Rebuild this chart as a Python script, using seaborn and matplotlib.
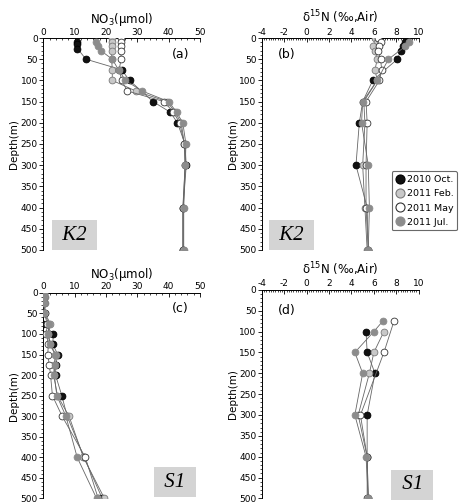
import numpy as np
import pandas as pd
import matplotlib
matplotlib.use('Agg')
import matplotlib.pyplot as plt
from matplotlib.ticker import MultipleLocator
from matplotlib.lines import Line2D
import seaborn as sns

# ---- du lieu doc tu hinh ----
seasons = ['2010 Oct.', '2011 Feb.', '2011 May', '2011 Jul.']

# (a) K2 NO3
k2_no3_oct_depth = [10, 15, 25, 50, 75, 100, 150, 175, 200, 250, 300, 400, 500]
k2_no3_oct = [10.8, 10.8, 10.9, 13.6, 25.0, 27.5, 35.0, 40.5, 42.8, 45.2, 45.6, 44.6, 44.6]
k2_no3_feb_depth = [0, 10, 20, 30, 50, 75, 100, 125, 150, 175, 200, 250, 300, 400, 500]
k2_no3_feb = [21.8, 21.8, 21.8, 21.8, 21.8, 22.0, 22.0, 29.5, 39.5, 42.0, 44.0, 45.0, 45.2, 44.6, 44.6]
k2_no3_may_depth = [0, 10, 20, 30, 50, 75, 100, 125, 150, 175, 200, 250, 300, 400, 500]
k2_no3_may = [24.8, 24.8, 24.8, 24.8, 24.8, 24.2, 25.0, 26.8, 38.5, 41.5, 43.5, 45.0, 45.3, 44.5, 44.5]
k2_no3_jul_depth = [10, 20, 30, 50, 75, 100, 125, 150, 175, 200, 250, 300, 400, 500]
k2_no3_jul = [16.8, 17.6, 18.4, 22.0, 24.0, 26.2, 31.5, 40.0, 42.5, 44.5, 45.5, 45.3, 44.8, 44.8]

# (b) K2 d15N
k2_dn_oct_depth = [10, 20, 30, 50, 100, 150, 200, 300, 400, 500]
k2_dn_oct = [8.8, 8.6, 8.4, 8.1, 5.9, 5.0, 4.7, 4.4, 5.4, 5.5]
k2_dn_feb_depth = [0, 10, 20, 30, 50, 75, 100, 150, 200, 300, 400, 500]
k2_dn_feb = [6.1, 6.3, 5.9, 6.1, 6.3, 6.1, 6.3, 5.1, 5.2, 5.0, 5.2, 5.4]
k2_dn_may_depth = [0, 10, 20, 30, 50, 75, 100, 150, 200, 300, 400, 500]
k2_dn_may = [6.4, 6.6, 6.5, 6.4, 6.6, 6.7, 6.5, 5.3, 5.4, 5.3, 5.3, 5.5]
k2_dn_jul_depth = [10, 20, 50, 100, 150, 200, 300, 400, 500]
k2_dn_jul = [9.1, 8.8, 7.3, 6.3, 5.0, 4.9, 5.5, 5.6, 5.5]

# (c) S1 NO3
s1_depth = [0, 10, 25, 50, 75, 100, 125, 150, 175, 200, 250, 300, 400, 500]
s1_no3_oct = [0.0, 0.0, 0.0, 0.0, 0.0, 3.2, 3.0, 4.6, 4.0, 3.9, 5.9, 7.6, 13.0, 18.8]
s1_no3_feb = [0.3, 0.4, 0.5, 0.6, 2.2, 1.6, 2.2, 4.0, 3.5, 3.3, 4.5, 8.2, 12.8, 19.5]
s1_no3_may = [0.2, 0.3, 0.3, 0.4, 1.2, 1.0, 1.6, 1.4, 1.9, 2.3, 2.9, 6.0, 13.4, 17.5]
s1_no3_jul = [0.1, 0.2, 0.2, 0.3, 1.8, 1.6, 2.0, 3.8, 3.6, 3.5, 4.3, 7.2, 10.8, 17.0]

# (d) S1 d15N
s1_dn_oct_depth = [100, 150, 200, 300, 400, 500]
s1_dn_oct = [5.3, 5.4, 6.1, 5.4, 5.4, 5.5]
s1_dn_feb_depth = [100, 150, 200, 300, 400, 500]
s1_dn_feb = [6.9, 6.0, 5.6, 4.6, 5.4, 5.5]
s1_dn_may_depth = [75, 150, 300, 400, 500]
s1_dn_may = [7.8, 6.9, 4.8, 5.4, 5.4]
s1_dn_jul_depth = [75, 100, 150, 200, 300, 400, 500]
s1_dn_jul = [6.8, 6.0, 4.3, 5.0, 4.3, 5.3, 5.5]

# ---- kieu ve ----
face = ['#111111', '#c8c8c8', '#ffffff', '#8c8c8c']
edge = ['#000000', '#7a7a7a', '#333333', '#8c8c8c']

plt.rcParams['font.family'] = ['DejaVu Sans']
plt.rcParams['axes.unicode_minus'] = False

fig = plt.figure(figsize=(4.59, 5.04), dpi=100)
ax_a = fig.add_axes([0.0944, 0.504, 0.3414, 0.4206])
ax_b = fig.add_axes([0.5708, 0.504, 0.3412, 0.4206])
ax_c = fig.add_axes([0.0944, 0.011, 0.3414, 0.408])
ax_d = fig.add_axes([0.5708, 0.011, 0.3412, 0.414])


def draw_profile(ax, series):
    for i, (d, v) in enumerate(series):
        df = pd.DataFrame({'val': v, 'depth': d})
        sns.lineplot(data=df, x='val', y='depth', sort=False, estimator=None,
                     color='#666666', lw=0.6, ax=ax, zorder=2 + i)
        sns.scatterplot(data=df, x='val', y='depth', color=face[i], edgecolor=edge[i],
                        linewidth=0.6, s=24, ax=ax, zorder=3 + i, legend=False)


def style_axis(ax, xlim, xmajor, xminor, xlabel):
    ax.set_xlim(*xlim)
    ax.set_ylim(500, 0)
    ax.xaxis.set_label_position('top')
    ax.xaxis.tick_top()
    ax.xaxis.set_major_locator(MultipleLocator(xmajor))
    ax.xaxis.set_minor_locator(MultipleLocator(xminor))
    ax.yaxis.set_major_locator(MultipleLocator(50))
    ax.yaxis.set_minor_locator(MultipleLocator(10))
    ax.tick_params(axis='x', which='major', direction='in', length=3, width=0.6, labelsize=6.5, pad=1)
    ax.tick_params(axis='x', which='minor', direction='in', length=1.5, width=0.5)
    ax.tick_params(axis='y', which='major', direction='out', length=3, width=0.6, labelsize=6.5, pad=1)
    ax.tick_params(axis='y', which='minor', direction='out', length=1.5, width=0.5)
    for s in ['right', 'bottom']:
        ax.spines[s].set_visible(False)
    for s in ['top', 'left']:
        ax.spines[s].set_linewidth(0.7)
    ax.set_xlabel(xlabel, fontsize=8.5, labelpad=3.5)
    ax.set_ylabel('Depth(m)', fontsize=7.5, labelpad=1)
    ax.set_facecolor('white')


draw_profile(ax_a, [(k2_no3_oct_depth, k2_no3_oct), (k2_no3_feb_depth, k2_no3_feb),
                    (k2_no3_may_depth, k2_no3_may), (k2_no3_jul_depth, k2_no3_jul)])
draw_profile(ax_b, [(k2_dn_oct_depth, k2_dn_oct), (k2_dn_feb_depth, k2_dn_feb),
                    (k2_dn_may_depth, k2_dn_may), (k2_dn_jul_depth, k2_dn_jul)])
draw_profile(ax_c, [(s1_depth, s1_no3_oct), (s1_depth, s1_no3_feb),
                    (s1_depth, s1_no3_may), (s1_depth, s1_no3_jul)])
draw_profile(ax_d, [(s1_dn_oct_depth, s1_dn_oct), (s1_dn_feb_depth, s1_dn_feb),
                    (s1_dn_may_depth, s1_dn_may), (s1_dn_jul_depth, s1_dn_jul)])

no3_label = r'NO$_3$($\mathrm{\mu}$mol)'
dn_label = 'δ$^{15}$N (‰,Air)'
style_axis(ax_a, (0, 50), 10, 2, no3_label)
style_axis(ax_b, (-4, 10), 2, 0.2, dn_label)
style_axis(ax_c, (0, 50), 10, 2, no3_label)
style_axis(ax_d, (-4, 10), 2, 0.2, dn_label)

# nhan (a)-(d)
ax_a.text(0.93, 0.955, '(a)', transform=ax_a.transAxes, ha='right', va='top', fontsize=9)
ax_b.text(0.1, 0.955, '(b)', transform=ax_b.transAxes, ha='left', va='top', fontsize=9)
ax_c.text(0.93, 0.955, '(c)', transform=ax_c.transAxes, ha='right', va='top', fontsize=9)
ax_d.text(0.1, 0.93, '(d)', transform=ax_d.transAxes, ha='left', va='top', fontsize=9)

# hop ten tram
box = dict(boxstyle='square,pad=0.25', fc='#d4d4d4', ec='none')
stn = dict(fontsize=15, style='italic', family='Liberation Serif', ha='center', va='center')
ax_a.text(0.2, 0.07, ' K2 ', transform=ax_a.transAxes, bbox=box, **stn)
ax_b.text(0.19, 0.07, ' K2 ', transform=ax_b.transAxes, bbox=box, **stn)
ax_c.text(0.84, 0.08, ' S1 ', transform=ax_c.transAxes, bbox=box, **stn)
ax_d.text(0.96, 0.065, ' S1 ', transform=ax_d.transAxes, bbox=box, **stn)

# chu thich
handles = [Line2D([], [], ls='none', marker='o', ms=6.5, mfc=face[i], mec=edge[i], mew=0.8)
           for i in range(4)]
leg = fig.legend(handles, seasons, loc='upper left', bbox_to_anchor=(0.853, 0.66),
                 fontsize=6.8, frameon=True, fancybox=True, handletextpad=0.2,
                 borderpad=0.4, labelspacing=0.55, handlelength=1.0, borderaxespad=0)
leg.get_frame().set_edgecolor('#444444')
leg.get_frame().set_linewidth(0.8)

fig.savefig('out.png', dpi=100)
